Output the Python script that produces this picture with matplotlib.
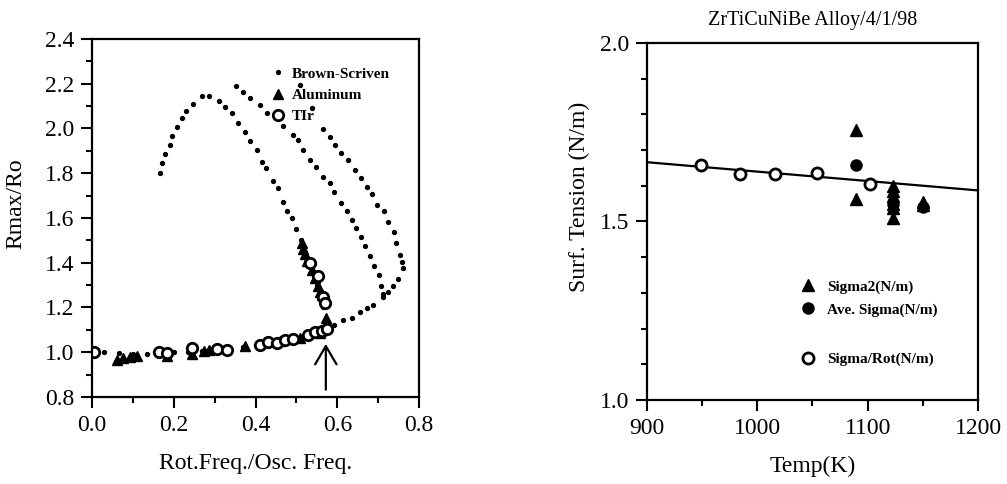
import numpy as np
import matplotlib
matplotlib.use("Agg")
import matplotlib.pyplot as plt
from matplotlib.lines import Line2D
from matplotlib.ticker import MultipleLocator, FormatStrFormatter

plt.rcParams['font.family'] = ['Liberation Serif', 'DejaVu Serif']

# --- left panel: Brown-Scriven theory (dots) ---
bs_lower_x = [0.0, 0.03, 0.065, 0.10, 0.135, 0.17, 0.20, 0.235, 0.27, 0.30, 0.335, 0.37, 0.40,
              0.43, 0.46, 0.49, 0.52, 0.545, 0.565, 0.592, 0.614, 0.635, 0.655, 0.672, 0.688]
bs_lower_y = [1.0, 1.0, 0.995, 0.993, 0.993, 0.995, 1.0, 1.003, 1.007, 1.012, 1.018, 1.025, 1.032,
              1.04, 1.048, 1.058, 1.07, 1.085, 1.10, 1.123, 1.145, 1.152, 1.182, 1.197, 1.212]

bs_arc_x = [0.166, 0.172, 0.178, 0.191, 0.196, 0.209, 0.219, 0.231, 0.248, 0.268, 0.287, 0.311,
            0.325, 0.342, 0.358, 0.374, 0.386, 0.404, 0.415, 0.425, 0.443, 0.456, 0.466, 0.478,
            0.49, 0.50, 0.512, 0.522, 0.532, 0.542, 0.55, 0.557, 0.565]
bs_arc_y = [1.803, 1.845, 1.885, 1.925, 1.967, 2.008, 2.046, 2.078, 2.108, 2.147, 2.147, 2.124,
            2.095, 2.068, 2.026, 1.983, 1.944, 1.904, 1.852, 1.822, 1.767, 1.733, 1.673, 1.629,
            1.599, 1.55, 1.50, 1.45, 1.40, 1.35, 1.30, 1.25, 1.20]

bs_mid_x = [0.352, 0.37, 0.386, 0.411, 0.429, 0.468, 0.491, 0.504, 0.517, 0.533, 0.549, 0.566,
            0.582, 0.592, 0.609, 0.625, 0.637, 0.647, 0.658, 0.669, 0.68, 0.69, 0.702, 0.707, 0.712]
bs_mid_y = [2.19, 2.165, 2.135, 2.105, 2.071, 2.011, 1.971, 1.949, 1.904, 1.86, 1.827, 1.785,
            1.755, 1.714, 1.669, 1.629, 1.589, 1.557, 1.517, 1.475, 1.432, 1.386, 1.343, 1.294, 1.26]

bs_out_x = [0.51, 0.537, 0.566, 0.582, 0.594, 0.61, 0.627, 0.643, 0.659, 0.672, 0.686, 0.698,
            0.715, 0.725, 0.738, 0.743, 0.753, 0.759, 0.76, 0.749, 0.737, 0.725, 0.712]
bs_out_y = [2.195, 2.093, 1.997, 1.961, 1.927, 1.89, 1.86, 1.815, 1.778, 1.74, 1.708, 1.659,
            1.629, 1.58, 1.537, 1.487, 1.435, 1.405, 1.376, 1.327, 1.294, 1.267, 1.249]

# --- left panel: measurements ---
al_x = [0.061, 0.076, 0.094, 0.11, 0.183, 0.244, 0.273, 0.285, 0.305, 0.374, 0.46, 0.509, 0.557,
        0.572, 0.513, 0.517, 0.52, 0.525, 0.537, 0.545, 0.553, 0.557, 0.562, 0.57]
al_y = [0.967, 0.974, 0.979, 0.982, 0.985, 0.994, 1.004, 1.011, 1.019, 1.026, 1.049, 1.064, 1.086,
        1.153, 1.49, 1.46, 1.44, 1.406, 1.368, 1.33, 1.294, 1.27, 1.257, 1.235]

tir_x = [0.004, 0.163, 0.183, 0.244, 0.305, 0.33, 0.411, 0.431, 0.452, 0.472, 0.492, 0.529,
         0.545, 0.562, 0.574, 0.533, 0.553, 0.566, 0.57]
tir_y = [0.999, 0.999, 0.997, 1.019, 1.014, 1.011, 1.034, 1.044, 1.041, 1.056, 1.059, 1.078,
         1.089, 1.093, 1.104, 1.398, 1.339, 1.246, 1.222]

# --- right panel: ZrTiCuNiBe ---
rot_T = [949, 984, 1016, 1054, 1102]
rot_s = [1.657, 1.634, 1.634, 1.636, 1.606]
ave_T = [1089, 1123, 1150]
ave_s = [1.659, 1.55, 1.54]
sig2_T = [1089, 1089, 1123, 1123, 1123, 1123, 1123, 1123, 1150, 1150]
sig2_s = [1.755, 1.562, 1.598, 1.584, 1.57, 1.55, 1.537, 1.51, 1.555, 1.545]
fit_T = [900, 1200]
fit_s = [1.666, 1.587]

fig = plt.figure(figsize=(10.07, 4.84), dpi=100)
ax1 = fig.add_axes([0.0914, 0.1798, 0.3247, 0.7397])
ax2 = fig.add_axes([0.6425, 0.1736, 0.3287, 0.7376])

tick_kw = dict(direction='out', width=1.5, colors='black', labelsize=17, pad=5)

# left
for bx, by in [(bs_lower_x, bs_lower_y), (bs_arc_x, bs_arc_y), (bs_mid_x, bs_mid_y), (bs_out_x, bs_out_y)]:
    ax1.plot(bx, by, 'o', color='black', ms=2.8, ls='none')
ax1.plot(al_x, al_y, '^', color='black', ms=7.5, ls='none')
ax1.plot(tir_x, tir_y, 'o', mfc='white', mec='black', mew=2, ms=7.5, ls='none')
ax1.annotate('', xy=(0.572, 1.05), xytext=(0.572, 0.82),
             arrowprops=dict(arrowstyle='->,head_length=0.6,head_width=0.35', lw=1.6,
                             color='black', mutation_scale=22))
ax1.set_xlim(0, 0.8)
ax1.set_ylim(0.8, 2.4)
ax1.xaxis.set_major_locator(MultipleLocator(0.2))
ax1.xaxis.set_minor_locator(MultipleLocator(0.1))
ax1.yaxis.set_major_locator(MultipleLocator(0.2))
ax1.yaxis.set_minor_locator(MultipleLocator(0.1))
ax1.xaxis.set_major_formatter(FormatStrFormatter('%.1f'))
ax1.yaxis.set_major_formatter(FormatStrFormatter('%.1f'))
ax1.tick_params(which='major', length=8, **tick_kw)
ax1.tick_params(which='minor', length=4, direction='out', width=1.5)
ax1.set_xlabel('Rot.Freq./Osc. Freq.', fontsize=17, labelpad=12)
ax1.set_ylabel('Rmax/Ro', fontsize=17)
ax1.yaxis.set_label_coords(-0.2, 0.54)

h1 = [Line2D([], [], marker='o', color='black', ms=2.8, ls='none'),
      Line2D([], [], marker='^', color='black', ms=7.5, ls='none'),
      Line2D([], [], marker='o', mfc='white', mec='black', mew=2, ms=7.5, ls='none')]
ax1.legend(h1, ['Brown-Scriven', 'Aluminum', 'TIr'], loc='upper left',
           bbox_to_anchor=(0.49, 0.96), frameon=False, handletextpad=0.1, handlelength=1.6,
           labelspacing=0.5, prop=dict(family='Liberation Serif', weight='bold', size=11))

# right
ax2.plot(fit_T, fit_s, color='black', lw=1.6)
ax2.plot(sig2_T, sig2_s, '^', color='black', ms=8, ls='none')
ax2.plot(ave_T, ave_s, 'o', color='black', ms=8, ls='none')
ax2.plot(rot_T, rot_s, 'o', mfc='white', mec='black', mew=2, ms=8, ls='none')
ax2.set_xlim(900, 1200)
ax2.set_ylim(1.0, 2.0)
ax2.xaxis.set_major_locator(MultipleLocator(100))
ax2.xaxis.set_minor_locator(MultipleLocator(50))
ax2.yaxis.set_major_locator(MultipleLocator(0.5))
ax2.yaxis.set_minor_locator(MultipleLocator(0.1))
ax2.yaxis.set_major_formatter(FormatStrFormatter('%.1f'))
ax2.tick_params(which='major', length=8, **tick_kw)
ax2.tick_params(which='minor', length=4, direction='out', width=1.5)
ax2.set_xlabel('Temp(K)', fontsize=17, labelpad=12)
ax2.set_ylabel('Surf. Tension (N/m)', fontsize=17)
ax2.yaxis.set_label_coords(-0.172, 0.57)
ax2.set_title('ZrTiCuNiBe Alloy/4/1/98', fontsize=14.5, pad=13)

leg_font = dict(family='Liberation Serif', weight='bold', size=11)
h2 = [Line2D([], [], marker='^', color='black', ms=8, ls='none'),
      Line2D([], [], marker='o', color='black', ms=8, ls='none')]
lg = ax2.legend(h2, ['Sigma2(N/m)', 'Ave. Sigma(N/m)'], loc='upper left',
                bbox_to_anchor=(0.4, 0.375), frameon=False, handletextpad=0.2,
                labelspacing=0.6, prop=leg_font)
ax2.add_artist(lg)
h3 = [Line2D([], [], marker='o', mfc='white', mec='black', mew=2, ms=8, ls='none')]
ax2.legend(h3, ['Sigma/Rot(N/m)'], loc='upper left', bbox_to_anchor=(0.4, 0.172),
           frameon=False, handletextpad=0.2, prop=leg_font)

for ax in (ax1, ax2):
    for s in ax.spines.values():
        s.set_linewidth(1.6)

fig.savefig('out.png', dpi=100, facecolor='white')
